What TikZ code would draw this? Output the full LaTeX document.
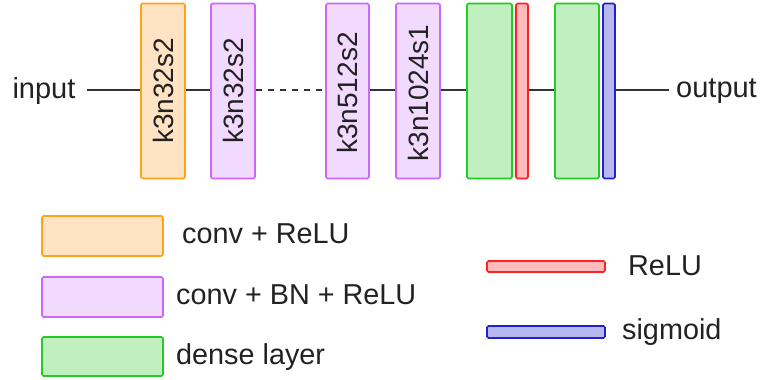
\documentclass[tikz,border=0pt]{standalone}
\usepackage{fontspec}
\setmainfont{Liberation Sans}
\definecolor{orB}{HTML}{FFA31A}
\definecolor{orF}{HTML}{FFE3C2}
\definecolor{puB}{HTML}{CC66FF}
\definecolor{puF}{HTML}{F2DAFF}
\definecolor{grB}{HTML}{22CC22}
\definecolor{grF}{HTML}{C0F0C0}
\definecolor{reB}{HTML}{FF2222}
\definecolor{reF}{HTML}{FFBBBB}
\definecolor{blB}{HTML}{2222CC}
\definecolor{blF}{HTML}{B8B8F0}
\definecolor{txt}{HTML}{222222}
\definecolor{ln}{HTML}{333333}
\begin{document}
\begin{tikzpicture}[x=1pt,y=-1pt,
  layer/.style={draw,line width=1.6pt,rounded corners=1.5pt,minimum height=175pt,inner sep=0pt},
  lay/.style={draw,line width=1.6pt,rounded corners=1.5pt,inner sep=0pt},
  orl/.style={draw=orB,fill=orF},
  pul/.style={draw=puB,fill=puF},
  grl/.style={draw=grB,fill=grF},
  rel/.style={draw=reB,fill=reF},
  bll/.style={draw=blB,fill=blF},
  vtxt/.style={rotate=90,text=txt,font=\fontsize{28}{30}\selectfont,inner sep=0pt},
  ltxt/.style={text=txt,font=\fontsize{28.8}{31}\selectfont,inner sep=0pt,anchor=base west},
  iotxt/.style={text=txt,font=\fontsize{29}{31}\selectfont,inner sep=0pt},
  conn/.style={draw=ln,line width=1.6pt}
]
\useasboundingbox (0,0) rectangle (761,380);
% layers
\node[layer,orl,minimum width=44pt] (c1) at (163,91) {};
\node[layer,pul,minimum width=44pt] (c2) at (233,91) {};
\node[layer,pul,minimum width=43pt] (c3) at (347.5,91) {};
\node[layer,pul,minimum width=44pt] (c4) at (418,91) {};
\node[layer,grl,minimum width=45pt] (d1) at (489.5,91) {};
\node[layer,rel,minimum width=12pt] (r1) at (522,91) {};
\node[layer,grl,minimum width=44pt] (d2) at (577,91) {};
\node[layer,bll,minimum width=12pt] (s1) at (609,91) {};
\node[vtxt] (t1) at (c1.center) {k3n32s2};
\node[vtxt] (t2) at (c2.center) {k3n32s2};
\node[vtxt] (t3) at (347.5,93) {k3n512s2};
\node[vtxt] (t4) at (418,93) {k3n1024s1};
% input / output
\node[iotxt] (in) at (44,91) {input};
\node[iotxt] (out) at (716.5,91) {output};
\coordinate (inR) at (87,90);
\coordinate (outL) at (669,90);
% connectors
\draw[conn] (inR) -- (c1.west |- inR);
\draw[conn] (c1.east |- inR) -- (c2.west |- inR);
\draw[conn,dash pattern=on 6pt off 6pt] (c2.east |- inR) -- (c3.west |- inR);
\draw[conn] (c3.east |- inR) -- (c4.west |- inR);
\draw[conn] (c4.east |- inR) -- (d1.west |- inR);
\draw[conn] (r1.east |- inR) -- (d2.west |- inR);
\draw[conn] (s1.east |- inR) -- (outL);
% legend
\node[lay,orl,minimum width=121pt,minimum height=40pt] (lo) at (102.5,236) {};
\node[lay,pul,minimum width=121pt,minimum height=40pt] (lp) at (102.5,297) {};
\node[lay,grl,minimum width=121pt,minimum height=39pt] (lg) at (102.5,356.5) {};
\node[lay,rel,minimum width=118pt,minimum height=11pt] (lr) at (546,266.5) {};
\node[lay,bll,minimum width=118pt,minimum height=12pt] (lb) at (546,332) {};
\node[ltxt] (to) at (182,243) {conv + ReLU};
\node[ltxt] (tp) at (176,304) {conv + BN + ReLU};
\node[ltxt] (tg) at (176,364) {dense layer};
\node[ltxt] (tr) at (628,275) {ReLU};
\node[ltxt] (tb) at (622,339) {sigmoid};
\end{tikzpicture}
\end{document}
